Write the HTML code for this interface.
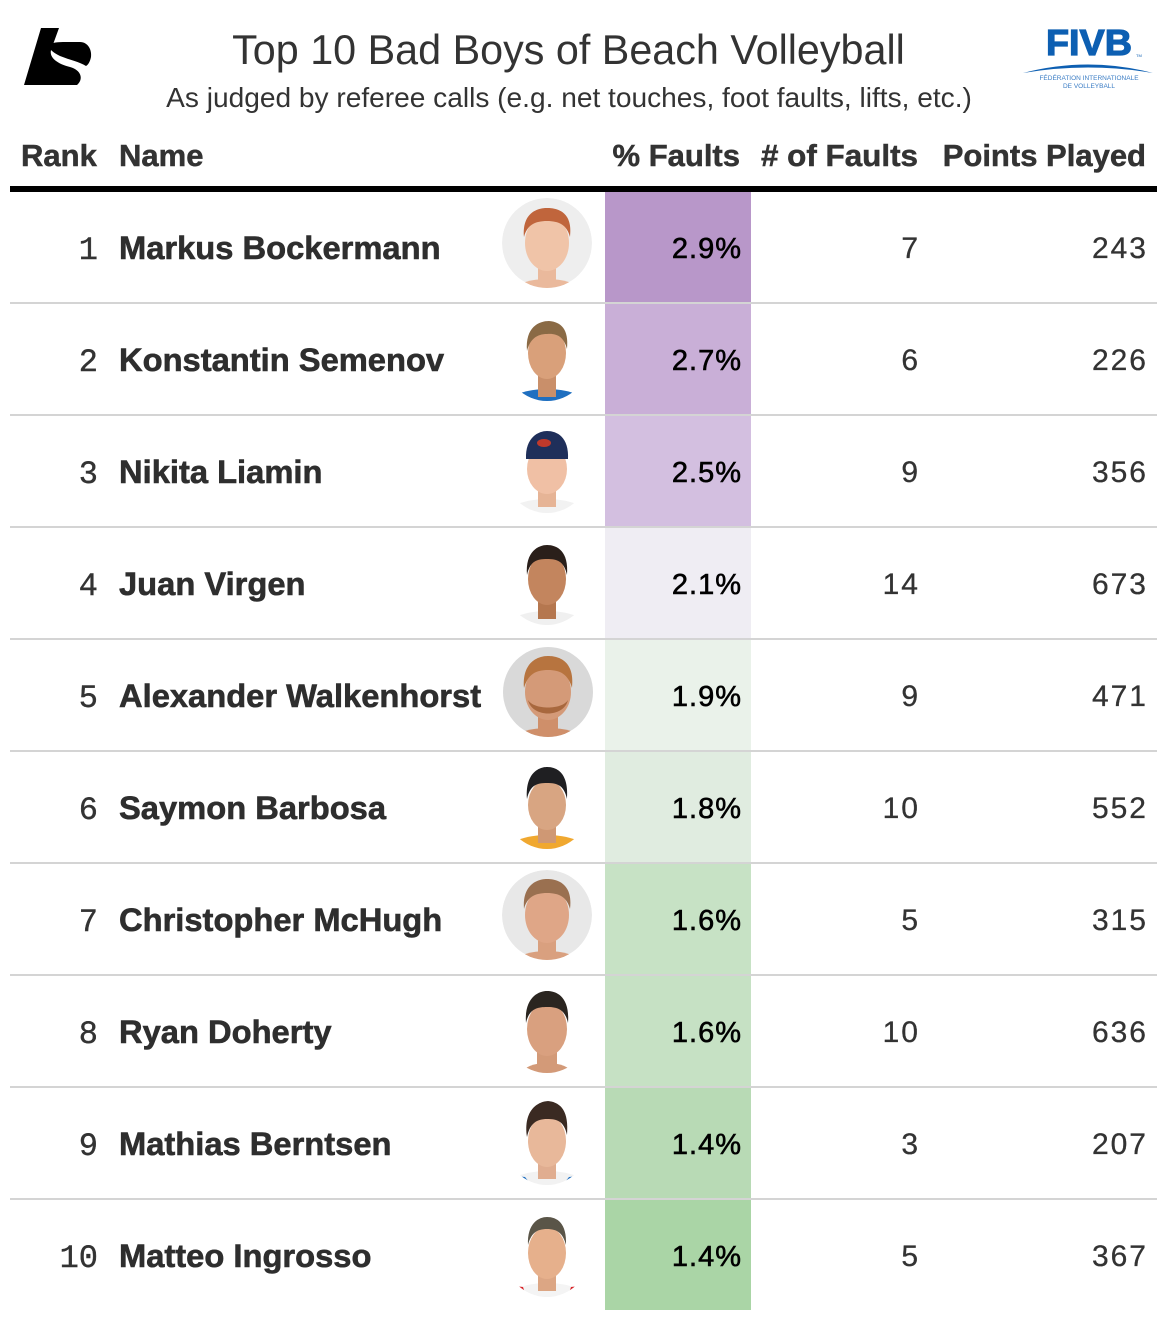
<!DOCTYPE html>
<html>
<head>
<meta charset="utf-8">
<style>
  html, body { margin: 0; padding: 0; background: #ffffff; }
  body { width: 1167px; height: 1326px; overflow: hidden; }
  svg { display: block; }
  .t { font-family: "Liberation Sans", Arial, sans-serif; }
  .m { font-family: "Liberation Mono", monospace; }
</style>
</head>
<body>
<svg width="1167" height="1326" viewBox="0 0 1167 1326" xmlns="http://www.w3.org/2000/svg">
  <defs>
    <clipPath id="cA"><circle cx="0" cy="0" r="45"/></clipPath>
    <clipPath id="cB"><circle cx="0" cy="0" r="42"/></clipPath>
  </defs>
  <rect width="1167" height="1326" fill="#ffffff"/>

  <!-- Left logo -->
  <path d="M41,28 L59,28 L51,50 C49,58 58,64 70,67 C81,70 84,79 77,85 L24,85 Z" fill="#000"/>
  <path d="M48,46 C52,42 58,42 66,42 L80,42 C88,42 92,50 91,57 C90,62 88,65 86,66 C80,62 70,60 60,56 C54,53 50,50 48,46 Z" fill="#000"/>

  <!-- FIVB logo -->
  <text class="t" x="1089" y="55" text-anchor="middle" font-size="36" font-weight="bold" fill="#0d5fb2" stroke="#0d5fb2" stroke-width="1.2" textLength="86" lengthAdjust="spacingAndGlyphs">FIVB</text>
  <text class="t" x="1136" y="57" font-size="4" fill="#0d5fb2">TM</text>
  <path d="M1023,73 Q1088,56 1153,73 Q1088,62 1023,73 Z" fill="#0d5fb2"/>
  <text class="t" x="1089" y="80" text-anchor="middle" font-size="6.5" fill="#3a7cc4">FÉDÉRATION INTERNATIONALE</text>
  <text class="t" x="1089" y="88" text-anchor="middle" font-size="6.5" fill="#3a7cc4">DE VOLLEYBALL</text>

  <!-- Title -->
  <text class="t" x="568.5" y="64" text-anchor="middle" font-size="41.3" fill="#333">Top 10 Bad Boys of Beach Volleyball</text>
  <text class="t" x="569" y="107" text-anchor="middle" font-size="28.1" fill="#333">As judged by referee calls (e.g. net touches, foot faults, lifts, etc.)</text>

  <!-- Header -->
  <g class="t" font-size="31" font-weight="bold" fill="#333" stroke="#333" stroke-width="0.5">
    <text x="21" y="166">Rank</text>
    <text x="119" y="166">Name</text>
    <text x="740" y="166" text-anchor="end">% Faults</text>
    <text x="918" y="166" text-anchor="end" textLength="157" lengthAdjust="spacingAndGlyphs"># of Faults</text>
    <text x="1146" y="166" text-anchor="end">Points Played</text>
  </g>
  <rect x="10" y="186" width="1147" height="6" fill="#000"/>

  <!-- Fault column colors -->
  <rect x="605" y="192" width="146" height="112" fill="#b897c9"/>
  <rect x="605" y="304" width="146" height="112" fill="#c9afd7"/>
  <rect x="605" y="416" width="146" height="112" fill="#d3bfe0"/>
  <rect x="605" y="528" width="146" height="112" fill="#efedf3"/>
  <rect x="605" y="640" width="146" height="112" fill="#eaf2ea"/>
  <rect x="605" y="752" width="146" height="112" fill="#e0ece0"/>
  <rect x="605" y="864" width="146" height="112" fill="#c7e2c5"/>
  <rect x="605" y="976" width="146" height="112" fill="#c6e1c4"/>
  <rect x="605" y="1088" width="146" height="112" fill="#b8dab5"/>
  <rect x="605" y="1200" width="146" height="110" fill="#aad5a6"/>

  <!-- Dividers -->
  <g fill="#d4d4d4">
    <rect x="10" y="302" width="1147" height="2"/>
    <rect x="10" y="414" width="1147" height="2"/>
    <rect x="10" y="526" width="1147" height="2"/>
    <rect x="10" y="638" width="1147" height="2"/>
    <rect x="10" y="750" width="1147" height="2"/>
    <rect x="10" y="862" width="1147" height="2"/>
    <rect x="10" y="974" width="1147" height="2"/>
    <rect x="10" y="1086" width="1147" height="2"/>
    <rect x="10" y="1198" width="1147" height="2"/>
  </g>

  <!-- Photos -->
  <!-- 1 -->
  <g transform="translate(547,243)">
    <g clip-path="url(#cA)">
      <circle r="45" fill="#eeeeee"/>
      <ellipse cx="0" cy="46" rx="30" ry="10" fill="#eab99c"/>
      <rect x="-9" y="20" width="18" height="22" fill="#eab99c"/>
      <ellipse cx="0" cy="0" rx="22" ry="28" fill="#f0c4a8"/>
      <path d="M-23,-6 C-25,-30 -10,-35 0,-35 C12,-35 26,-30 23,-6 C20,-18 12,-22 0,-22 C-12,-22 -20,-18 -23,-6 Z" fill="#c0653c"/>
    </g>
  </g>
  <!-- 2 -->
  <g transform="translate(547,359)">
    <g clip-path="url(#cB)">
      <ellipse cx="0" cy="44" rx="38" ry="14" fill="#1f6fc0"/>
      <rect x="-9" y="14" width="18" height="24" fill="#c98f6a"/>
      <ellipse cx="0" cy="-6" rx="19" ry="26" fill="#d9a07a"/>
      <path d="M-20,-8 C-22,-32 -8,-38 2,-38 C14,-37 22,-30 20,-10 C17,-22 10,-26 0,-25 C-10,-25 -17,-20 -20,-8 Z" fill="#8a6a45"/>
    </g>
  </g>
  <!-- 3 -->
  <g transform="translate(547,471)">
    <g clip-path="url(#cB)">
      <ellipse cx="0" cy="44" rx="40" ry="16" fill="#f2f2f2"/>
      <rect x="-9" y="14" width="18" height="22" fill="#e6b496"/>
      <ellipse cx="0" cy="-2" rx="20" ry="25" fill="#f0c0a5"/>
      <path d="M-21,-12 C-22,-34 -8,-40 0,-40 C10,-40 22,-34 21,-12 Z" fill="#1f2f5a"/>
      <ellipse cx="-3" cy="-28" rx="7" ry="4" fill="#c0392b"/>
    </g>
  </g>
  <!-- 4 -->
  <g transform="translate(547,583)">
    <g clip-path="url(#cB)">
      <ellipse cx="0" cy="44" rx="40" ry="16" fill="#f0f0f0"/>
      <rect x="-9" y="14" width="18" height="22" fill="#b5774f"/>
      <ellipse cx="0" cy="-4" rx="19" ry="26" fill="#c3855e"/>
      <path d="M-20,-8 C-22,-32 -8,-38 0,-38 C10,-38 22,-32 20,-8 C17,-22 10,-24 0,-24 C-10,-24 -17,-22 -20,-8 Z" fill="#2a1f1a"/>
    </g>
  </g>
  <!-- 5 -->
  <g transform="translate(548,692)">
    <g clip-path="url(#cA)">
      <circle r="46" fill="#d9d9d9"/>
      <ellipse cx="0" cy="46" rx="32" ry="10" fill="#cf8f6a"/>
      <rect x="-10" y="20" width="20" height="22" fill="#cf8f6a"/>
      <ellipse cx="0" cy="0" rx="23" ry="28" fill="#d49a78"/>
      <path d="M-20,8 C-16,26 16,26 20,8 C14,18 -14,18 -20,8 Z" fill="#a8683e"/>
      <path d="M-24,-4 C-26,-30 -10,-36 0,-36 C12,-36 27,-30 24,-4 C20,-18 12,-22 0,-22 C-12,-22 -20,-18 -24,-4 Z" fill="#b7743f"/>
    </g>
  </g>
  <!-- 6 -->
  <g transform="translate(547,807)">
    <g clip-path="url(#cB)">
      <ellipse cx="0" cy="44" rx="40" ry="16" fill="#f0a830"/>
      <rect x="-9" y="14" width="18" height="22" fill="#cf9874"/>
      <ellipse cx="0" cy="-2" rx="19" ry="25" fill="#d8a582"/>
      <path d="M-20,-8 C-22,-34 -8,-40 0,-40 C10,-40 22,-34 20,-8 C17,-22 10,-24 0,-24 C-10,-24 -17,-22 -20,-8 Z" fill="#1f1f22"/>
    </g>
  </g>
  <!-- 7 -->
  <g transform="translate(547,915)">
    <g clip-path="url(#cA)">
      <circle r="45" fill="#e8e8e8"/>
      <ellipse cx="0" cy="46" rx="30" ry="10" fill="#d9a07f"/>
      <rect x="-9" y="20" width="18" height="22" fill="#d9a07f"/>
      <ellipse cx="0" cy="0" rx="22" ry="28" fill="#dfa687"/>
      <path d="M-23,-6 C-25,-30 -10,-36 0,-36 C12,-36 26,-30 23,-6 C20,-18 12,-22 0,-22 C-12,-22 -20,-18 -23,-6 Z" fill="#9a7050"/>
    </g>
  </g>
  <!-- 8 -->
  <g transform="translate(547,1031)">
    <g clip-path="url(#cB)">
      <ellipse cx="0" cy="42" rx="24" ry="10" fill="#d39a78"/>
      <rect x="-10" y="14" width="20" height="26" fill="#d39a78"/>
      <ellipse cx="0" cy="-2" rx="20" ry="27" fill="#d9a07f"/>
      <path d="M-21,-8 C-23,-34 -8,-40 0,-40 C10,-40 23,-34 21,-8 C18,-22 10,-24 0,-24 C-10,-24 -18,-22 -21,-8 Z" fill="#2a2520"/>
    </g>
  </g>
  <!-- 9 -->
  <g transform="translate(547,1143)">
    <g clip-path="url(#cB)">
      <ellipse cx="0" cy="44" rx="40" ry="16" fill="#f2f2f2"/>
      <path d="M-40,32 L-22,34 L-14,44 L-40,44 Z" fill="#1f6fc0"/>
      <path d="M40,32 L22,34 L14,44 L40,44 Z" fill="#1f6fc0"/>
      <rect x="-9" y="14" width="18" height="22" fill="#e0ad90"/>
      <ellipse cx="0" cy="-2" rx="19" ry="26" fill="#e8b89a"/>
      <path d="M-20,-6 C-24,-34 -8,-42 2,-42 C14,-40 22,-32 20,-8 C17,-22 10,-24 0,-24 C-10,-24 -17,-20 -20,-6 Z" fill="#3a2a22"/>
    </g>
  </g>
  <!-- 10 -->
  <g transform="translate(547,1255)">
    <g clip-path="url(#cB)">
      <ellipse cx="0" cy="44" rx="40" ry="16" fill="#f4f4f4"/>
      <path d="M-40,30 L-24,32 L-20,44 L-40,44 Z" fill="#d8262b"/>
      <path d="M40,30 L24,32 L20,44 L40,44 Z" fill="#d8262b"/>
      <rect x="-9" y="14" width="18" height="22" fill="#dca684"/>
      <ellipse cx="0" cy="-2" rx="19" ry="26" fill="#e6b08c"/>
      <path d="M-19,-10 C-20,-32 -8,-38 0,-38 C10,-38 20,-32 19,-10 C16,-22 10,-26 0,-26 C-10,-26 -16,-22 -19,-10 Z" fill="#5a5548"/>
    </g>
  </g>

  <!-- Rank numbers -->
  <g class="m" font-size="32" fill="#333" stroke="#333" stroke-width="0.4" text-anchor="end">
    <text x="98" y="259">1</text>
    <text x="98" y="371">2</text>
    <text x="98" y="483">3</text>
    <text x="98" y="595">4</text>
    <text x="98" y="707">5</text>
    <text x="98" y="819">6</text>
    <text x="98" y="931">7</text>
    <text x="98" y="1043">8</text>
    <text x="98" y="1155">9</text>
    <text x="98" y="1267">10</text>
  </g>

  <!-- Names -->
  <g class="t" font-size="32.7" font-weight="bold" fill="#2e2e2e" stroke="#2e2e2e" stroke-width="0.6">
    <text x="119" y="259">Markus Bockermann</text>
    <text x="119" y="371">Konstantin Semenov</text>
    <text x="119" y="483">Nikita Liamin</text>
    <text x="119" y="595">Juan Virgen</text>
    <text x="119" y="707">Alexander Walkenhorst</text>
    <text x="119" y="819">Saymon Barbosa</text>
    <text x="119" y="931">Christopher McHugh</text>
    <text x="119" y="1043">Ryan Doherty</text>
    <text x="119" y="1155">Mathias Berntsen</text>
    <text x="119" y="1267">Matteo Ingrosso</text>
  </g>

  <!-- Percent -->
  <g class="t" font-size="29" fill="#000" stroke="#000" stroke-width="0.6" text-anchor="end" letter-spacing="1">
    <text x="742" y="258">2.9%</text>
    <text x="742" y="370">2.7%</text>
    <text x="742" y="482">2.5%</text>
    <text x="742" y="594">2.1%</text>
    <text x="742" y="706">1.9%</text>
    <text x="742" y="818">1.8%</text>
    <text x="742" y="930">1.6%</text>
    <text x="742" y="1042">1.6%</text>
    <text x="742" y="1154">1.4%</text>
    <text x="742" y="1266">1.4%</text>
  </g>

  <!-- # of faults -->
  <g class="t" font-size="30" fill="#333" stroke="#333" stroke-width="0.3" text-anchor="end" letter-spacing="2">
    <text x="920" y="258">7</text>
    <text x="920" y="370">6</text>
    <text x="920" y="482">9</text>
    <text x="920" y="594">14</text>
    <text x="920" y="706">9</text>
    <text x="920" y="818">10</text>
    <text x="920" y="930">5</text>
    <text x="920" y="1042">10</text>
    <text x="920" y="1154">3</text>
    <text x="920" y="1266">5</text>
  </g>

  <!-- Points played -->
  <g class="t" font-size="30" fill="#333" stroke="#333" stroke-width="0.3" text-anchor="end" letter-spacing="2">
    <text x="1148" y="258">243</text>
    <text x="1148" y="370">226</text>
    <text x="1148" y="482">356</text>
    <text x="1148" y="594">673</text>
    <text x="1148" y="706">471</text>
    <text x="1148" y="818">552</text>
    <text x="1148" y="930">315</text>
    <text x="1148" y="1042">636</text>
    <text x="1148" y="1154">207</text>
    <text x="1148" y="1266">367</text>
  </g>
</svg>
</body>
</html>
